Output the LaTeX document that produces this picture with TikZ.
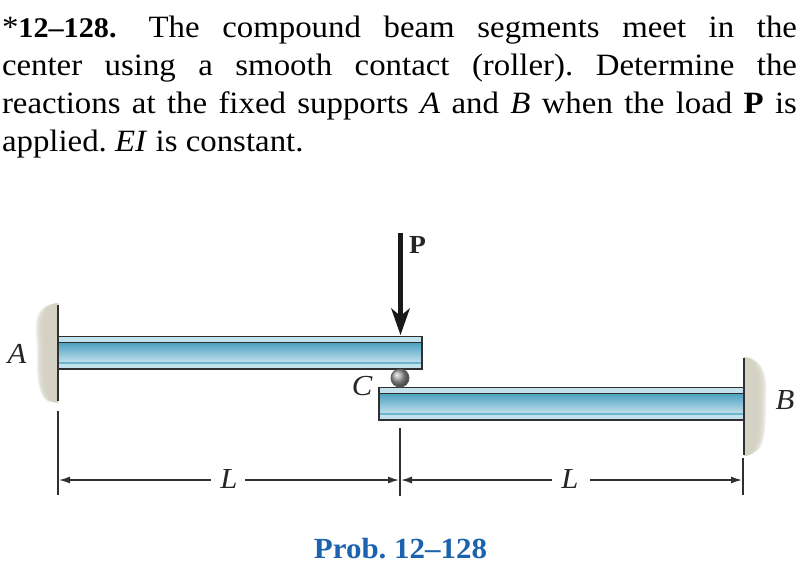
\documentclass[tikz,border=0pt]{standalone}
\usepackage{fontspec}
\setmainfont[FakeStretch=1.06]{Liberation Serif}
\usetikzlibrary{arrows.meta}
\definecolor{linec}{HTML}{303030}
\definecolor{flange}{HTML}{C3E2ED}
\definecolor{webdark}{HTML}{4A9FBF}
\definecolor{weblight}{HTML}{C4E2ED}
\definecolor{seam}{HTML}{6DB4CF}
\definecolor{wallc}{HTML}{CFCEBE}
\definecolor{probblue}{HTML}{1B63AE}
\tikzset{
  txt/.style={anchor=base west,inner sep=0pt,outer sep=0pt,font=\fontsize{31}{31}\selectfont},
  lab/.style={inner sep=0pt,font=\fontsize{29}{29}\selectfont\itshape,text=black!85},
  dimlab/.style={inner sep=0pt,font=\fontsize{29}{29}\selectfont\itshape,text=black!85},
  edge/.style={draw=linec,line width=1.8pt},
  dim/.style={draw=linec,line width=1.4pt},
  dimarrow/.style={dim,{Latex[length=11pt,width=7pt]}-,shorten <=1pt}
}
\newcommand{\beamseg}[3]{%
  \fill[flange] (#1,#3) rectangle (#2,#3+6);
  \shade[top color=webdark,bottom color=weblight] (#1,#3+6) rectangle (#2,#3+27);
  \fill[weblight] (#1,#3+27) rectangle (#2,#3+33);
  \draw[seam,line width=1.2pt] (#1,#3+27) -- (#2,#3+27);
  \draw[edge] (#1,#3+6.5) -- (#2,#3+6.5);
}
\begin{document}
\frenchspacing
\begin{tikzpicture}[x=1pt,y=-1pt]
\useasboundingbox (0,0) rectangle (805,573);
\fill[white] (0,0) rectangle (805,573);
% problem text
\node[txt] (l1) at (2,37) {\makebox[795pt][s]{*{\fontsize{28.5}{31}\selectfont\textbf{12–128.}}\hspace{32pt}The compound beam segments meet in the}};
\node[txt] (l2) at (2,75) {\makebox[795pt][s]{center using a smooth contact (roller). Determine the}};
\node[txt] (l3) at (2,113) {\makebox[795pt][s]{reactions at the fixed supports \textit{A} and \textit{B} when the load \textbf{P} is}};
\node[txt] (l4) at (2,151) {applied. \textit{EI} is constant.};
% walls: nested soft blobs
\foreach \s in {1.06,1,.94,.87,.79,.7} {
  \begin{scope}[shift={(58,0)},xscale=\s]
    \fill[wallc,opacity=.3] (-21,325) .. controls (-21,340) and (-19,350) .. (-20,362) .. controls (-20,380) and (-18,396) .. (-10,401) -- (0,403) -- (0,303) -- (-6,304) .. controls (-14,306) and (-20,312) .. (-21,325) -- cycle;
  \end{scope}
  \begin{scope}[shift={(744,0)},xscale=\s]
    \fill[wallc,opacity=.3] (0,357) -- (6,358) .. controls (16,362) and (22,372) .. (21,392) .. controls (20,412) and (22,432) .. (16,446) .. controls (12,453) and (6,456) .. (0,456) -- cycle;
  \end{scope}
}
% beams
\beamseg{58}{422}{336}
\beamseg{379}{744}{387}
\draw[edge] (58,336.5) rectangle (422,369);
\draw[edge] (379,387.5) rectangle (744,420);
% wall lines
\coordinate (wa1) at (58,305);
\coordinate (wa2) at (58,401);
\coordinate (wb1) at (744,358);
\coordinate (wb2) at (744,455);
\draw[edge] (wa1) -- (wa2);
\draw[edge] (wb1) -- (wb2);
% roller
\shade[ball color=black!38] (400,378) circle (9);
\draw[linec!80,line width=.8pt] (400,378) circle (9);
% load
\coordinate (p1) at (400.5,233);
\coordinate (p2) at (400.5,335);
\draw[line width=5.6pt,black!90] (p1) -- (400.5,318);
\fill[black!90] (p2) -- (391,308) -- (400.5,316) -- (410,308) -- cycle;
\node[inner sep=0pt,font=\fontsize{26}{26}\selectfont\bfseries,text=black!85] (P) at (417.5,245) {P};
% labels
\node[lab] (A) at (17,354) {A};
\node[lab] (B) at (785,400) {B};
\node[lab] (C) at (362,386) {C};
% dimensions
\coordinate (d1a) at (58,411);
\coordinate (d1b) at (58,495);
\coordinate (d2a) at (400,428);
\coordinate (d2b) at (400,496);
\coordinate (d3a) at (743,458);
\coordinate (d3b) at (743,495);
\draw[dim] (d1a) -- (d1b);
\draw[dim] (d2a) -- (d2b);
\draw[dim] (d3a) -- (d3b);
\node[dimlab] (L1) at (229,479) {L};
\node[dimlab] (L2) at (570,479) {L};
\coordinate (a1) at (58,480);
\coordinate (a2) at (400,480);
\coordinate (a3) at (743,480);
\coordinate (g1) at (211,480);
\coordinate (g2) at (245,480);
\coordinate (g3) at (552,480);
\coordinate (g4) at (590,480);
\draw[dimarrow] (a1) -- (g1);
\draw[dimarrow] (a2) -- (g2);
\draw[dimarrow] (a2) -- (g3);
\draw[dimarrow] (a3) -- (g4);
% caption
\node[anchor=base,inner sep=0pt,font=\fontsize{29.2}{30}\selectfont\bfseries,text=probblue] (cap) at (400.5,558) {Prob. 12–128};
\end{tikzpicture}
\end{document}
